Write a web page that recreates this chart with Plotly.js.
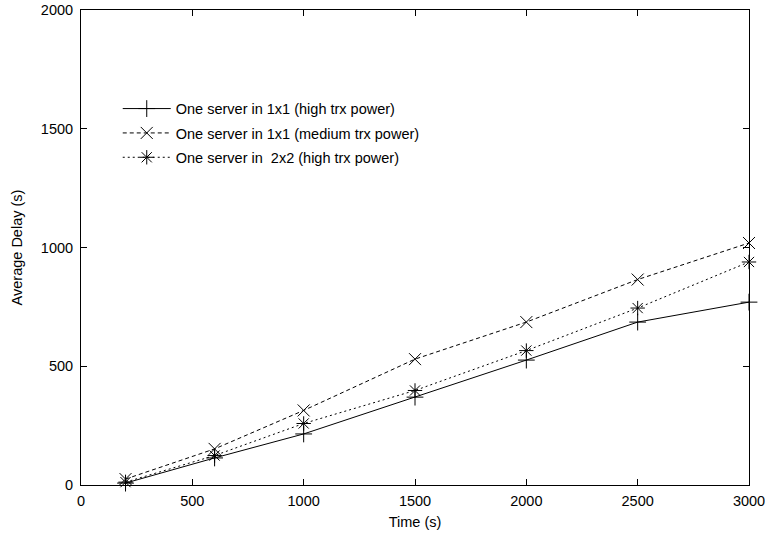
<!DOCTYPE html>
<html><head><meta charset="utf-8">
<script src="https://cdn.plot.ly/plotly-3.0.1.min.js"></script>
<style>html,body{margin:0;padding:0;background:#fff;}#chart{width:765px;height:533px;}</style>
</head><body><div id="chart"></div>
<script>
const times = [200, 600, 1000, 1500, 2000, 2500, 3000];
const seriesNames = ["One server in 1x1 (high trx power)", "One server in 1x1 (medium trx power)", "One server in  2x2 (high trx power)"];
const oneServer1x1High = [8, 114, 215, 370, 526, 686, 770];
const oneServer1x1Medium = [25, 152, 314, 530, 686, 865, 1019];
const oneServer2x2High = [12, 124, 259, 398, 566, 745, 939];
const xTicks = [0, 500, 1000, 1500, 2000, 2500, 3000];
const yTicks = [0, 500, 1000, 1500, 2000];

const styles = [
  {dash: "solid", symbol: "cross-thin-open"},
  {dash: "4px,3px", symbol: "x-thin-open"},
  {dash: "2px,3px", symbol: "asterisk-open"}
];
const values = [oneServer1x1High, oneServer1x1Medium, oneServer2x2High];
const traces = values.map((v, i) => ({
  x: times, y: v, name: seriesNames[i], type: "scatter", mode: "lines+markers",
  legendgroup: "g" + i,
  line: {color: "#000", width: 1, dash: styles[i].dash},
  marker: {symbol: styles[i].symbol, size: 12, color: "#000", line: {color: "#000", width: 1}},
  cliponaxis: false
}));
const fam = "Liberation Sans, Arial, sans-serif";
const fs = 14.5;
const axisBase = {showline: true, linecolor: "#000", linewidth: 1, mirror: "allticks", ticks: "inside", ticklen: 6, tickcolor: "#000", tickwidth: 1, showgrid: false, zeroline: false, ticklabeloverflow: "allow", tickfont: {family: fam, size: fs, color: "#000"}};
const layout = {
  width: 765, height: 533,
  margin: {l: 81, r: 16, t: 10, b: 48},
  paper_bgcolor: "#fff", plot_bgcolor: "#fff",
  font: {family: fam, size: fs, color: "#000"},
  showlegend: true,
  legend: {x: 0.055, y: 0.826, xanchor: "left", yanchor: "top", bgcolor: "rgba(0,0,0,0)", borderwidth: 0, font: {family: fam, size: fs, color: "#000"}, itemwidth: 48, traceorder: "grouped", tracegroupgap: 2.5},
  xaxis: Object.assign({}, axisBase, {range: [0, 3000], tickvals: xTicks, ticklabelstandoff: 3, title: {text: "Time (s)", font: {family: fam, size: fs, color: "#000"}, standoff: 8}}),
  yaxis: Object.assign({}, axisBase, {range: [0, 2000], tickvals: yTicks, ticklabelstandoff: 4, title: {text: "Average Delay (s)", font: {family: fam, size: fs, color: "#000"}, standoff: 14}})
};
Plotly.newPlot("chart", traces, layout, {displayModeBar: false, staticPlot: true});
</script></body></html>
